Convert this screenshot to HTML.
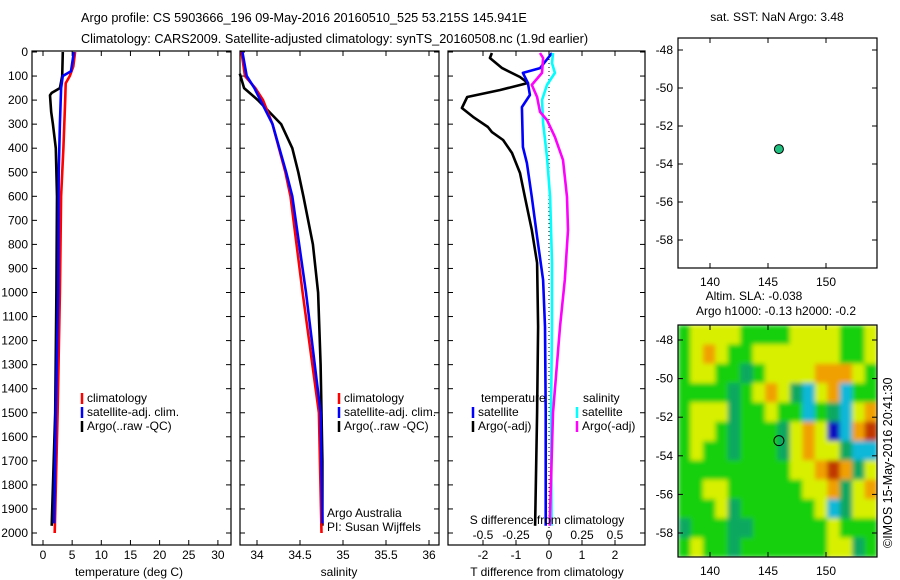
<!DOCTYPE html>
<html><head><meta charset="utf-8">
<style>
html,body{margin:0;padding:0;background:#fff;}
svg{display:block;font-family:"Liberation Sans",sans-serif;}
text{font-size:12px;fill:#000;}
</style></head>
<body>
<svg id="chart" width="900" height="580" viewBox="0 0 900 580" xmlns="http://www.w3.org/2000/svg">
<defs>
<filter id="blur" x="0" y="0" width="1" height="1"><feGaussianBlur stdDeviation="2.5" edgeMode="duplicate"/></filter>
<clipPath id="mapclip"><rect x="678" y="325" width="199" height="232"/></clipPath>
</defs>
<text x="81" y="22" style="font-size:12.7px">Argo profile: CS 5903666_196 09-May-2016 20160510_525 53.215S 145.941E</text>
<text x="81" y="43" style="font-size:12.7px">Climatology: CARS2009. Satellite-adjusted climatology: synTS_20160508.nc (1.9d earlier)</text>
<g id="g1"></g>
<g id="g2"></g>
<g id="g3"></g>
<g id="g4"></g>
<g id="g5"></g>
<text transform="translate(892,548) rotate(-90)" style="font-size:12.5px">©IMOS 15-May-2016 20:41:30</text>
</svg>
<script>
// ---- data ----
const depthTicks=[0,100,200,300,400,500,600,700,800,900,1000,1100,1200,1300,1400,1500,1600,1700,1800,1900,2000];
const tempTicks=[0,5,10,15,20,25,30];
const salTicks=[34,34.5,35,35.5,36];
const salTickLabels=["34","34.5","35","35.5","36"];
const tdTicks=[-2,-1,0,1,2];
const sdTicks=[-0.5,-0.25,0,0.25,0.5];
const sdTickLabels=["-0.5","-0.25","0","0.25","0.5"];

const climTDepth=[0,60,100,130,200,400,600,1000,1500,2000];
const climT=[5.5,5.2,4.6,3.9,3.8,3.5,3.1,2.9,2.5,2.0];
const satTDepth=[0,80,100,150,300,500,1000,1500,1960];
const satT=[5.3,4.8,3.4,3.1,2.9,2.7,2.6,2.2,1.9];
const argoTDepth=[0,100,150,170,180,250,300,400,600,1000,1500,1970];
const argoT=[3.4,3.3,2.9,1.5,1.2,1.4,1.7,2.2,2.4,2.3,2.1,1.5];

const climSDepth=[0,100,150,200,300,500,600,1000,1500,2000];
const climS=[33.82,33.86,33.98,34.07,34.18,34.33,34.39,34.53,34.72,34.75];
const satSDepth=[0,100,150,200,300,500,600,1000,1500,1960];
const satS=[33.83,33.88,33.97,34.04,34.18,34.34,34.41,34.57,34.74,34.76];
const argoSDepth=[90,150,200,300,400,500,600,800,1000,1300,1500,1700,1970];
const argoS=[33.8,33.85,34.01,34.28,34.41,34.48,34.54,34.65,34.71,34.74,34.75,34.76,34.76];

const dDepth=[4,25,67,104,129,158,187,233,270,312,333,366,420,503,603,740,877,1143,1500,1970];
const argoTd=[-1.73,-1.79,-1.42,-0.88,-0.64,-1.48,-2.48,-2.64,-2.30,-1.85,-1.73,-1.39,-1.12,-0.88,-0.73,-0.52,-0.36,-0.33,-0.36,-0.42];
const satDepth2=[4,67,87,129,179,229,395,462,603,769,948,1143,1500,1970];
const satTd=[0.09,-0.27,-0.79,-0.64,-0.58,-0.82,-0.79,-0.67,-0.52,-0.36,-0.18,-0.12,-0.1,-0.1];
const cyDepth=[4,46,87,137,200,295,437,603,877,1143,1500,1970];
const satSd=[0.03,0.023,0.045,-0.015,-0.053,-0.045,-0.015,0.008,0.023,0.023,0.015,0.02];
const mgDepth=[4,25,87,137,187,249,283,353,449,603,740,948,1143,1500,1970];
const argoSd=[-0.068,-0.045,-0.053,-0.13,-0.09,-0.068,-0.015,0.045,0.106,0.136,0.144,0.12,0.083,0.03,0.005];

const mapLonTicks=[140,145,150];
const mapLatTicks=[-48,-50,-52,-54,-56,-58];
const argoLon=145.941, argoLat=-53.215;
// SLA grid (rows north->south, cols west->east); -3 blue .. 3 red
const slaGrid=[
[0,1,1,1,1,0,0,0,0,1,1,1,1,0,0,1],
[0,1,2,1,0,0,1,1,1,1,1,1,1,0,0,1],
[0,1,1,0,0,-1,0,1,1,1,1,2,2,2,1,0],
[0,0,0,0,-1,0,1,2,1,-1,-2,1,2,-2,0,0],
[0,1,1,1,-1,0,0,1,0,0,-2,0,-1,-2,1,2],
[0,1,1,0,-1,0,0,0,-1,1,2,1,-3,-2,2,3],
[0,1,0,0,-1,0,0,0,-1,1,2,1,1,-1,-2,-2],
[0,0,0,0,0,0,0,0,0,1,1,2,3,2,-1,1],
[0,0,1,1,0,0,0,0,0,0,1,1,2,-1,1,2],
[0,0,0,1,-1,0,0,0,0,0,0,1,-2,-1,1,1],
[-1,0,0,0,-1,-1,0,0,0,0,0,0,1,0,0,0],
[0,1,0,0,-1,0,0,0,0,0,0,0,1,1,-1,0]];

// ---- helpers ----
const NS="http://www.w3.org/2000/svg";
function mk(parent,tag,attrs){const e=document.createElementNS(NS,tag);for(const k in attrs)e.setAttribute(k,attrs[k]);parent.appendChild(e);return e;}
function txt(parent,x,y,s,anchor){const t=mk(parent,'text',{x:x,y:y,'text-anchor':anchor||'start'});t.textContent=s;return t;}
const yD=d=>52+d*0.2405;
const TOP=51,BOT=545;

function frame(g,x0,x1,y0,y1){const r=mk(g,'rect',{x:x0,y:y0,width:x1-x0,height:y1-y0,fill:'none',stroke:'#000','stroke-width':1.2});

}
function depthAxis(g,x0,x1,labels){
  depthTicks.forEach(d=>{const y=yD(d);
    mk(g,'line',{x1:x0,y1:y,x2:x0+5,y2:y,stroke:'#000'});
    mk(g,'line',{x1:x1,y1:y,x2:x1-5,y2:y,stroke:'#000'});
    if(labels){const t=txt(g,x0-4,y+4,String(d),'end');
      
      }
  });
}
function xTicks(g,ticks,labels,sx,y0,y1,ly){
  ticks.forEach((v,i)=>{const x=sx(v);
    mk(g,'line',{x1:x,y1:y1,x2:x,y2:y1-5,stroke:'#000'});
    mk(g,'line',{x1:x,y1:y0,x2:x,y2:y0+5,stroke:'#000'});
    if(ly){const t=txt(g,x,ly,labels[i],'middle');
      
      }
  });
}
function profile(g,vals,depths,sx,color,name){
  const pts=vals.map((v,i)=>sx(v).toFixed(1)+','+yD(depths[i]).toFixed(1)).join(' ');
  const p=mk(g,'polyline',{points:pts,fill:'none',stroke:color,'stroke-width':2.6,'stroke-linejoin':'round'});
  
  
}
function legendEntry(g,x,y,color,label){
  mk(g,'line',{x1:x,y1:y-9,x2:x,y2:y+2,stroke:color,'stroke-width':2.5});
  const t=txt(g,x+5,y,label);
  
  
}

// ---- panel 1 temperature ----
const g1=document.getElementById('g1');
const sxT=v=>43+v*5.83;
frame(g1,32,231,TOP,BOT);
depthAxis(g1,32,231,true);
xTicks(g1,tempTicks,tempTicks.map(String),sxT,TOP,BOT,559);
profile(g1,argoT,argoTDepth,sxT,'#000','argo-temperature-line');
profile(g1,climT,climTDepth,sxT,'#f00','climatology-temperature-line');
profile(g1,satT,satTDepth,sxT,'#00f','satellite-temperature-line');
legendEntry(g1,82,402,'#f00','climatology');
legendEntry(g1,82,416,'#00f','satellite-adj. clim.');
legendEntry(g1,82,430,'#000','Argo(..raw -QC)');
const a1=txt(g1,129,576,'temperature (deg C)','middle');



// ---- panel 2 salinity ----
const g2=document.getElementById('g2');
const sxS=v=>257+(v-34)*86;
frame(g2,240,439,TOP,BOT);
depthAxis(g2,240,439,false);
xTicks(g2,salTicks,salTickLabels,sxS,TOP,BOT,559);
profile(g2,argoS,argoSDepth,sxS,'#000','argo-salinity-line');
profile(g2,climS,climSDepth,sxS,'#f00','climatology-salinity-line');
profile(g2,satS,satSDepth,sxS,'#00f','satellite-salinity-line');
legendEntry(g2,339,402,'#f00','climatology');
legendEntry(g2,339,416,'#00f','satellite-adj. clim.');
legendEntry(g2,339,430,'#000','Argo(..raw -QC)');
const n1=txt(g2,327,517,'Argo Australia');


const n2=txt(g2,327,531,'PI: Susan Wijffels');


const a2=txt(g2,339,576,'salinity','middle');



// ---- panel 3 differences ----
const g3=document.getElementById('g3');
const sxTd=v=>549+v*33;
const sxSd=v=>549+v*132;
frame(g3,448,645,TOP,BOT);
depthAxis(g3,448,645,false);
xTicks(g3,tdTicks,tdTicks.map(String),sxTd,TOP,BOT,559);
sdTicks.forEach((v,i)=>{const t=txt(g3,sxSd(v),539,sdTickLabels[i],'middle');
  
  });
mk(g3,'line',{x1:549,y1:TOP,x2:549,y2:BOT,stroke:'#000','stroke-dasharray':'1,3'});
profile(g3,argoTd,dDepth,sxTd,'#000','argo-t-diff-line');
profile(g3,satTd,satDepth2,sxTd,'#00f','satellite-t-diff-line');
profile(g3,satSd,cyDepth,sxSd,'#0ff','satellite-s-diff-line');
profile(g3,argoSd,mgDepth,sxSd,'#f0f','argo-s-diff-line');
const h1=txt(g3,481,402,'temperature');
const h2=txt(g3,583,402,'salinity');
legendEntry(g3,473,416,'#00f','satellite');
legendEntry(g3,473,430,'#000','Argo(-adj)');
legendEntry(g3,577,416,'#0ff','satellite');
legendEntry(g3,577,430,'#f0f','Argo(-adj)');
const a3=txt(g3,547,524,'S difference from climatology','middle');
const a4=txt(g3,547,576,'T difference from climatology','middle');

// ---- maps ----
const lonX=v=>710+(v-140)*11.6;
function mapAxes(g,y0,y1,latY){
  frame(g,678,877,y0,y1);
  mapLonTicks.forEach(v=>{const x=lonX(v);
    mk(g,'line',{x1:x,y1:y1,x2:x,y2:y1-5,stroke:'#000'});
    mk(g,'line',{x1:x,y1:y0,x2:x,y2:y0+5,stroke:'#000'});
    const t=txt(g,x,y1+18,String(v),'middle');
    
    });
  mapLatTicks.forEach(v=>{const y=latY(v);
    mk(g,'line',{x1:678,y1:y,x2:683,y2:y,stroke:'#000'});
    mk(g,'line',{x1:877,y1:y,x2:872,y2:y,stroke:'#000'});
    const t=txt(g,673,y+4,String(v),'end');
    
    });
}
const g4=document.getElementById('g4');
const latY4=v=>50+(-48-v)*19.0;
const t4=txt(g4,777,21,'sat. SST: NaN Argo: 3.48','middle');

mapAxes(g4,38,268,latY4);
const dot4=mk(g4,'circle',{cx:lonX(argoLon),cy:latY4(argoLat),r:4.5,fill:'#20c080',stroke:'#000','stroke-width':1});



const g5=document.getElementById('g5');
const latY5=v=>340+(-48-v)*19.3;
const slaColors={"-3":"#1010c0","-2":"#10b8d8","-1":"#10a860","0":"#18d010","1":"#d8f000","2":"#f0a000","3":"#c03800"};
const rows=slaGrid.length, cols=slaGrid[0].length;
const cw=(877-678)/cols, ch=(557-325)/rows;
const clipG=mk(g5,'g',{'clip-path':'url(#mapclip)'});
const heat=mk(clipG,'g',{filter:'url(#blur)'});


slaGrid.forEach((row,r)=>row.forEach((v,c)=>{
  const cell=mk(heat,'rect',{x:(678+c*cw).toFixed(2),y:(325+r*ch).toFixed(2),width:(cw+0.6).toFixed(2),height:(ch+0.6).toFixed(2),fill:slaColors[String(v)]});
  
  
}));
const t5a=txt(g5,754,300,'Altim. SLA: -0.038','middle');

const t5b=txt(g5,776,315,'Argo h1000: -0.13 h2000: -0.2','middle');

mapAxes(g5,325,557,latY5);
const dot5=mk(g5,'circle',{cx:lonX(argoLon),cy:latY5(argoLat),r:5,fill:'none',stroke:'#000','stroke-width':1});


</script>
</body></html>
